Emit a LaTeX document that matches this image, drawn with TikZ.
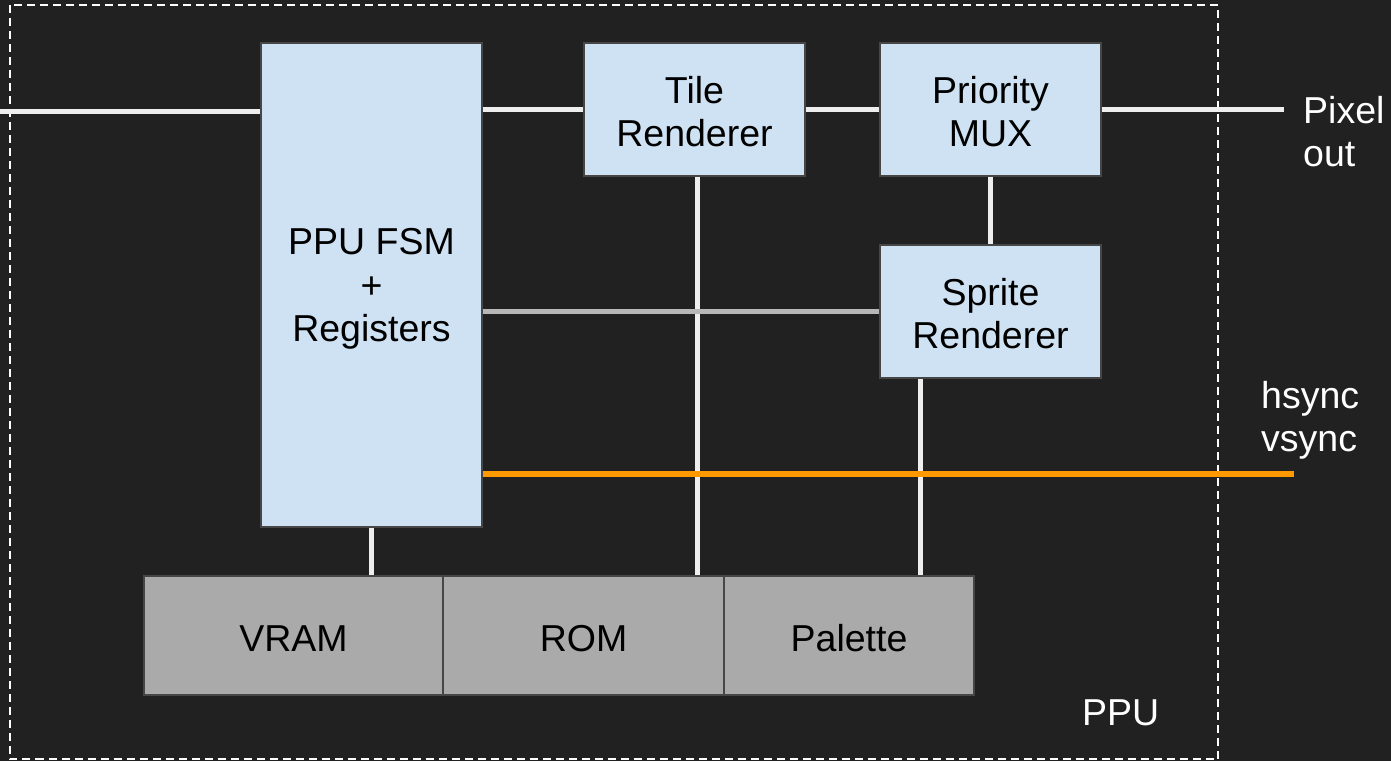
\documentclass[tikz,border=0pt]{standalone}
\usepackage{fontspec}
\setmainfont{Liberation Sans}
\definecolor{bg}{RGB}{33,33,33}
\definecolor{blufill}{RGB}{207,226,243}
\definecolor{memfill}{RGB}{170,170,170}
\definecolor{edge}{RGB}{70,70,70}
\definecolor{wire}{RGB}{238,238,238}
\definecolor{graywire}{RGB}{183,183,183}
\definecolor{orangewire}{RGB}{255,153,0}
\newcommand\mytopstrut{\rule{0pt}{34pt}}
\newcommand\mybotstrut{\rule[-3pt]{0pt}{3pt}}
\begin{document}
\begin{tikzpicture}[x=1pt,y=-1pt,
  txt/.style={font=\fontsize{37.5}{43.5}\selectfont, align=center, text=black, inner sep=0pt},
  blk/.style={txt, draw=edge, line width=1.5pt, fill=blufill},
  mem/.style={txt, draw=edge, line width=1.5pt, fill=memfill, minimum height=119pt},
  wireline/.style={draw=wire, line width=5pt},
  grayline/.style={draw=graywire, line width=5pt},
  syncline/.style={draw=orangewire, line width=6pt},
  lbl/.style={font=\fontsize{37.5}{43}\selectfont, text=white, align=left, inner sep=0pt},
  frame/.style={draw=white, line width=2pt, dash pattern=on 8pt off 5pt}
]
\useasboundingbox (0,0) rectangle (1391,761);
\fill[bg] (0,0) rectangle (1391,761);
\draw[frame] (9.5,5) rectangle (1218,759);

% blocks
\node[blk, minimum width=221pt, minimum height=484pt] (fsm) at (371.5,285) {\mytopstrut PPU FSM\\+\\Registers\mybotstrut};
\node[blk, minimum width=221pt, minimum height=133pt] (tile) at (694.5,109.5) {\mytopstrut Tile\\Renderer\mybotstrut};
\node[blk, minimum width=221pt, minimum height=133pt] (mux) at (990.5,109.5) {\mytopstrut Priority\\MUX\mybotstrut};
\node[blk, minimum width=221pt, minimum height=133pt] (sprite) at (990.5,311.5) {\mytopstrut Sprite\\Renderer\mybotstrut};
\node[mem, minimum width=299pt] (vram) at (293.5,635.5) {\mytopstrut VRAM\mybotstrut};
\node[mem, minimum width=281pt] (rom) at (583.5,635.5) {\mytopstrut ROM\mybotstrut};
\node[mem, minimum width=250pt] (pal) at (849,635.5) {\mytopstrut Palette\mybotstrut};

% labels
\node[lbl, anchor=base west] (pixlbl) at (1303,123) {Pixel};
\node[lbl, anchor=base west] (outlbl) at (1303,166) {out};
\node[lbl, anchor=base west] (hslbl) at (1261,408) {hsync};
\node[lbl, anchor=base west] (vslbl) at (1261,451) {vsync};
\node[lbl, anchor=base west] (ppulbl) at (1082,725) {PPU};

% free ends
\coordinate (inL) at (0,111);
\coordinate (pxo) at (1284,109.5);
\coordinate (sync) at (1294,474);

% vertical wires first
\draw[wireline] (fsm.south) -- (fsm.south |- vram.north);
\draw[wireline] ([xshift=2.5pt]tile.south) coordinate (ts) -- (ts |- rom.north);
\draw[wireline] ([xshift=41pt]sprite.south west) coordinate (ss) -- (ss |- pal.north);
\draw[wireline] (mux.south) -- (sprite.north);

% horizontal wires
\draw[wireline] (inL) -- (fsm.west |- inL);
\draw[wireline] (fsm.east |- tile.west) -- (tile.west);
\draw[wireline] (tile.east) -- (mux.west);
\draw[wireline] (mux.east) -- (pxo);
\draw[grayline] (fsm.east |- sprite.west) -- (sprite.west);
\draw[syncline] (fsm.east |- sync) -- (sync);
\end{tikzpicture}
\end{document}
